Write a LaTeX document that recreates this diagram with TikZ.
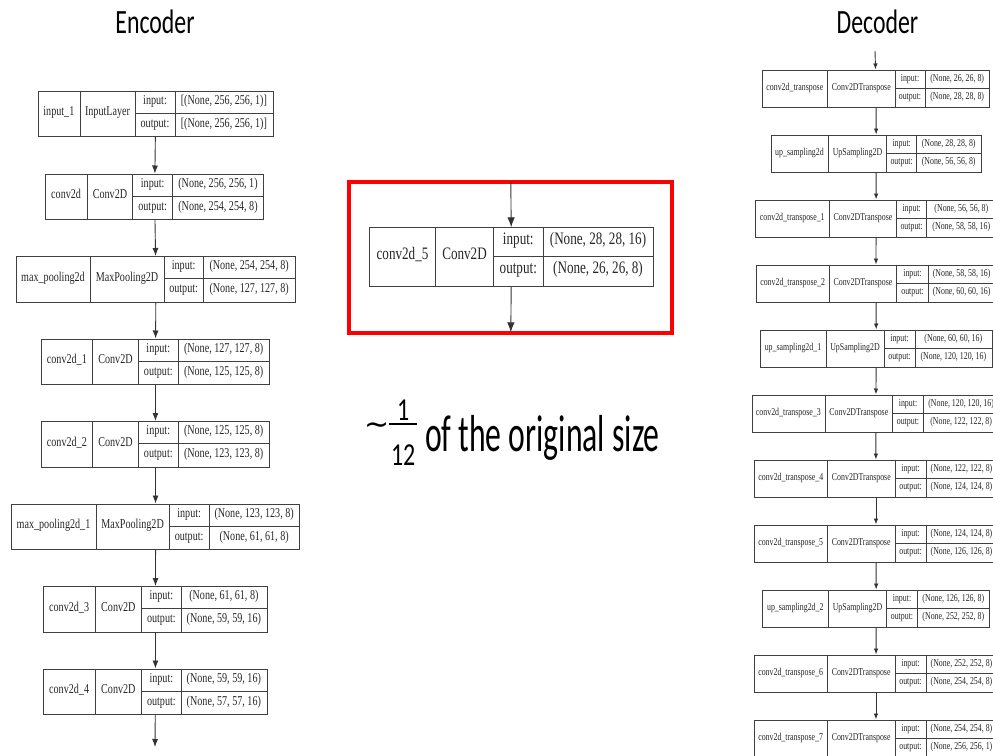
\documentclass[tikz,border=0pt]{standalone}
\usepackage{graphicx}
\usepackage{fontspec}
\newfontfamily\layerfont{Liberation Serif}[FakeStretch=0.75]
\newfontfamily\titlefont{Carlito}
\newfontfamily\tildefont{DejaVu Sans}
\usetikzlibrary{arrows.meta}

\tikzset{
  layer/.style={draw=black!75, line width=0.9pt, inner sep=0pt},
  cell/.style={inner sep=0pt, text=black!85, text height=0.68em, text depth=0.2em},
  enccell/.style={cell, font=\layerfont\fontsize{13.5}{15}\selectfont},
  midcell/.style={cell, font=\layerfont\fontsize{17.5}{19}\selectfont},
  deccell/.style={cell, font=\layerfont\fontsize{10.5}{12}\selectfont},
  flow/.style={draw=black!80, line width=0.9pt, -{Latex[length=#1]}},
  title/.style={font=\titlefont\fontsize{34}{36}\selectfont, xscale=0.7, anchor=base},
  caption/.style={font=\titlefont, inner sep=0pt, anchor=base west},
  zoomframe/.style={draw=red, line width=4pt, inner sep=0pt}
}

% stacked fraction: numerator, bar, denominator
\newcommand{\ratiofrac}[2]{%
  \vbox{\hbox to 37pt{\hss#1\hss}\kern2.3pt\hrule height 2pt\kern19pt\hbox to 37pt{\hss#2\hss}}}

% one layer box per entry: id/left/x1/x2/x3/right/top/name/type/in/out
\newcommand{\layerstack}[3]{%
  \foreach \id/\xl/\xa/\xb/\xc/\xr/\yt/\nm/\ty/\inp/\outp in {#3}{%
    \pgfmathsetmacro\yb{\yt+#1}
    \pgfmathsetmacro\ym{\yt+#1/2}
    \node[layer, anchor=north west, minimum width={(\xr-\xl)*1pt}, minimum height=#1pt] (\id) at (\xl,\yt) {};
    \draw[layer] (\xa,\yt) -- (\xa,\yb) (\xb,\yt) -- (\xb,\yb) (\xc,\yt) -- (\xc,\yb) (\xb,\ym) -- (\xr,\ym);
    \node[#2] at ({(\xl+\xa)/2},\ym) {\nm};
    \node[#2] at ({(\xa+\xb)/2},\ym) {\ty};
    \node[#2] at ({(\xb+\xc)/2},{\yt+#1/4}) {input:};
    \node[#2] at ({(\xb+\xc)/2},{\yt+3*#1/4}) {output:};
    \node[#2] at ({(\xc+\xr)/2},{\yt+#1/4}) {\inp};
    \node[#2] at ({(\xc+\xr)/2},{\yt+3*#1/4}) {\outp};
  }%
}

\begin{document}
\begin{tikzpicture}[x=1pt, y=-1pt]
\useasboundingbox (0,0) rectangle (993,755);
\clip (0,0) rectangle (993,755);

% encoder
\node[title] (enctitle) at (155,33) {Encoder};
\layerstack{45.5}{enccell}{
  e1/37.7/80/135/175/272.7/90.5/input\_1/InputLayer/{[(None, 256, 256, 1)]}/{[(None, 256, 256, 1)]},
  e2/45/87.3/132.7/172.7/263.3/173.5/conv2d/Conv2D/{(None, 256, 256, 1)}/{(None, 254, 254, 8)},
  e3/16/90/164/203.3/295/256/max\_pooling2d/MaxPooling2D/{(None, 254, 254, 8)}/{(None, 127, 127, 8)},
  e4/41/92.7/138.3/178.3/269/338.5/conv2d\_1/Conv2D/{(None, 127, 127, 8)}/{(None, 125, 125, 8)},
  e5/41/92.7/138.3/178.3/269/421/conv2d\_2/Conv2D/{(None, 125, 125, 8)}/{(None, 123, 123, 8)},
  e6/11/96/169.3/209/299.3/503.5/max\_pooling2d\_1/MaxPooling2D/{(None, 123, 123, 8)}/{(None, 61, 61, 8)},
  e7/43.3/95/141.7/181/266.7/586/conv2d\_3/Conv2D/{(None, 61, 61, 8)}/{(None, 59, 59, 16)},
  e8/43.3/95/141.7/181/266.7/668.5/conv2d\_4/Conv2D/{(None, 59, 59, 16)}/{(None, 57, 57, 16)}
}
\coordinate (encout) at (155,747);
\foreach \u/\v in {e1/e2,e2/e3,e3/e4,e4/e5,e5/e6,e6/e7,e7/e8}
  \draw[flow=8pt] (\u) -- (\v);
\draw[flow=8pt] (e8) -- (encout);

% bottleneck layer
\node[zoomframe, minimum width=323pt, minimum height=151.6pt] (frame) at (510.8,257.5) {};
\layerstack{58.7}{midcell}{
  m1/369.3/435.7/493.3/543.3/652.7/227.3/conv2d\_5/Conv2D/{(None, 28, 28, 16)}/{(None, 26, 26, 8)}
}
\draw[flow=10pt] ([yshift=-2pt]frame.north) -- (m1);
\draw[flow=10pt] (m1) -- ([yshift=3pt]frame.south);
\node[caption] (ratio) at (364,451.7) {%
  \raisebox{17pt}{\tildefont\fontsize{30}{32}\selectfont ∼}%
  \raisebox{-13.3pt}{\scalebox{0.75}[1]{\fontsize{32}{34}\selectfont\ratiofrac{1}{12}}}%
  \hspace{8pt}%
  \scalebox{0.61}[1]{\fontsize{52}{56}\selectfont of the original size}};

% decoder
\node[title] (dectitle) at (877.5,33) {Decoder};
\layerstack{37}{deccell}{
  d1/762/827.7/895/925/989.3/69.5/conv2d\_transpose/Conv2DTranspose/{(None, 26, 26, 8)}/{(None, 28, 28, 8)},
  d2/770.7/828.3/886.7/916.7/980.7/134.5/up\_sampling2d/UpSampling2D/{(None, 28, 28, 8)}/{(None, 56, 56, 8)},
  d3/755.3/829.3/896.7/926.7/996/199.5/conv2d\_transpose\_1/Conv2DTranspose/{(None, 56, 56, 8)}/{(None, 58, 58, 16)},
  d4/756/829.3/896.7/928.3/995/264.5/conv2d\_transpose\_2/Conv2DTranspose/{(None, 58, 58, 16)}/{(None, 60, 60, 16)},
  d5/760/826/884/915/991.7/329.5/up\_sampling2d\_1/UpSampling2D/{(None, 60, 60, 16)}/{(None, 120, 120, 16)},
  d6/751.7/825/892.7/923.3/999/394.5/conv2d\_transpose\_3/Conv2DTranspose/{(None, 120, 120, 16)}/{(None, 122, 122, 8)},
  d7/754/827.7/895/926/997/459.5/conv2d\_transpose\_4/Conv2DTranspose/{(None, 122, 122, 8)}/{(None, 124, 124, 8)},
  d8/754/827.3/895/926/997/524.5/conv2d\_transpose\_5/Conv2DTranspose/{(None, 124, 124, 8)}/{(None, 126, 126, 8)},
  d9/762.3/828.3/886.7/917.3/989.3/589.5/up\_sampling2d\_2/UpSampling2D/{(None, 126, 126, 8)}/{(None, 252, 252, 8)},
  d10/754/827.3/895/926/997/654.5/conv2d\_transpose\_6/Conv2DTranspose/{(None, 252, 252, 8)}/{(None, 254, 254, 8)},
  d11/754/827.3/895/926/997/719.5/conv2d\_transpose\_7/Conv2DTranspose/{(None, 254, 254, 8)}/{(None, 256, 256, 1)}
}
\coordinate (decin) at (875,51);
\draw[flow=6pt] (decin) -- (d1);
\foreach \u/\v in {d1/d2,d2/d3,d3/d4,d4/d5,d5/d6,d6/d7,d7/d8,d8/d9,d9/d10,d10/d11}
  \draw[flow=6pt] (\u) -- (\v);
\end{tikzpicture}
\end{document}
